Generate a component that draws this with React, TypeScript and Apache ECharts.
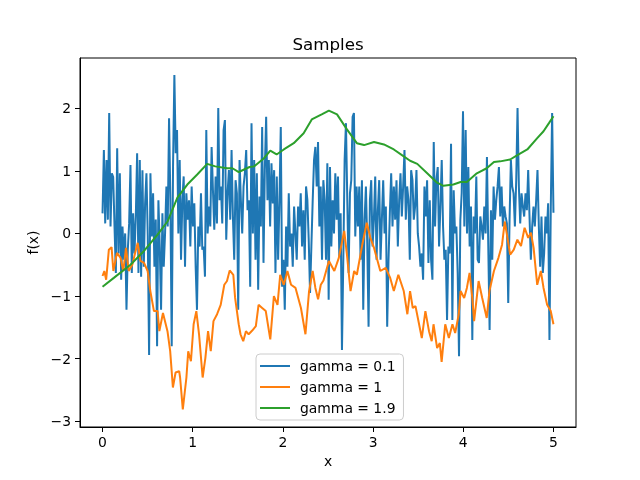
import React, { useEffect, useRef } from "react";
import * as echarts from "echarts";

const TITLE = "Samples";
const X_LABEL = "x";
const Y_LABEL = "f(x)";
const X_TICKS = [0, 1, 2, 3, 4, 5];
const Y_TICKS = [-3, -2, -1, 0, 1, 2];
const SERIES_NAMES = ["gamma = 0.1", "gamma = 1", "gamma = 1.9"];
const COLORS = ["#1f77b4", "#ff7f0e", "#2ca02c"];
const X_START = 0;
const X_END = 5;

// gamma = 0.1 : values sampled on an even grid from 0 to 5
const blueY = [
  0.32, 1.33, 0.16, 1.17, 0.22, 1.92, 0.11, 0.96, 0.90, 0.11, -0.63, 1.36, -0.32, 0.96, -0.74, 0.11, -0.42, 0.00, -1.22, -0.26,
  0.16, 1.09, -0.63, 0.32, -0.32, 0.27, 1.28, -0.63, 1.17, -0.69, 1.01, -0.53, 0.48, 0.96, -0.05, -1.94, 0.96, -0.05, 0.64, -0.53,
  0.22, -1.80, 0.53, -0.21, -1.22, 0.32, -0.53, 0.00, 0.75, 0.11, 1.84, 0.53, -1.80, 1.07, 2.53,
  1.28, 1.65, 0.00, 1.17, -0.42, 0.53, 0.91, -0.53, 0.64, 0.22, 0.53, -0.21, 0.75, 0.11, 0.48, -0.53, -1.22, 0.11, -0.21, 0.64,
  -0.26, -0.21, -0.69, 1.65, 0.00, 0.43, 0.11, 1.38, 0.69, 0.06, 0.91, 0.16, 2.00, 0.53, 0.75, 0.16, 1.65, 1.81, -0.10, 0.64,
  1.01, 0.22, 1.33, 0.27, -0.42, 0.85, 0.64, -1.22, 1.17, 0.53, 0.00, 0.75, 0.96, 1.33, 0.37, 0.53, -0.85,
  1.76, 0.00, 1.17, -0.42, 0.96, -0.90, 0.59, 0.11, 1.70, -0.47, 1.01, 1.86, 0.53, 1.17, 0.11, 1.12, 0.48, 1.01, -0.63, 0.91,
  -0.42, 0.53, 1.70, -0.85, -0.42, -1.22, 0.11, -0.53, 0.64, -0.21, 0.00, -0.53, 0.43, 0.00, -0.42, 0.43, 0.11, 0.64, -0.21, 0.37,
  -0.42, 0.75, 0.53, -0.10, -0.95, -0.21, 0.53, 1.17, 1.38, 0.75, 1.46, 0.11, 0.75, -0.42, 0.85, 0.53,
  -0.42, 1.12, -1.06, 1.06, -0.21, 0.53, 0.00, 0.96, 0.22, 0.91, -0.37, 0.32, -1.86, -0.42, 1.17, 1.76, 0.53, -0.63, 0.64, 0.85,
  1.86, 1.92, -0.05, 0.75, 0.11, 0.75, -0.42, 0.85, -1.22, 0.22, 0.75, -0.16, -1.49, 0.53, 0.85, -0.21, 0.22, 0.91, -0.42, 0.37,
  0.85, -0.42, 0.22, 0.85, 0.00, 0.43, -1.49, -0.42, 0.32, 0.96, 0.11, 0.75, 0.22, 0.85, -0.21, 0.53, 0.96,
  0.27, 0.75, 1.33, 0.22, 0.75, 0.53, -0.42, 1.01, 0.85, 0.22, 0.43, 1.01, 0.00, -0.21, -0.53, -0.32, -0.74, 0.75, 0.27, 0.85,
  -0.47, 0.53, -0.42, -0.74, 1.46, 0.11, 0.85, 1.06, -0.21, 0.43, 1.17, 0.11, -0.42, -0.26, -1.38, -0.21, -0.32, 1.43, -1.38, 0.69,
  0.00, 0.11, -0.63, -1.96, 0.22, 0.64, 1.95, 0.11, 1.65, 0.00, 1.06, -0.21, 0.43, -1.70, 0.27, 0.00, 0.91, -0.42,
  -0.47, 0.27, 0.11, -0.10, 0.43, 0.00, 1.22, -0.21, -1.54, 0.37, -0.42, 0.75, 0.22, 0.53, 0.75, 1.06, 0.27, 0.75, 0.11, 0.43,
  0.27, 0.16, -1.11, 0.22, 1.17, 0.75, 0.64, 0.11, 0.85, 2.00, 0.75, 0.16, 0.64, 0.43, 0.27, 0.64, 0.37, 1.01, 0.27, -0.42,
  0.11, 0.43, 0.11, 0.53, 1.01, 0.11, -0.53, 0.27, -0.63, -0.32, 0.27, 0.00, 0.48, -1.70, 0.43, 1.92, 0.33,
];

// gamma = 1 : [x, f(x)]
const orange: [number, number][] = [
  [0.0, -0.68], [0.02, -0.6], [0.04, -0.74], [0.07, -0.26], [0.1, -0.22], [0.12, -0.6], [0.16, -0.31], [0.2, -0.39],
  [0.23, -0.6], [0.26, -0.23], [0.29, -0.6], [0.33, -0.5], [0.37, -0.26], [0.39, -0.15], [0.42, -0.44], [0.46, -0.47],
  [0.5, -0.6], [0.53, -0.92], [0.57, -1.24], [0.61, -1.24], [0.63, -1.56], [0.67, -1.27], [0.72, -1.56], [0.75, -1.88],
  [0.78, -2.46], [0.81, -2.22], [0.85, -2.2], [0.86, -2.3], [0.89, -2.81], [0.93, -2.3], [0.95, -1.88], [0.98, -2.04],
  [1.01, -1.45], [1.04, -1.24], [1.07, -1.61], [1.11, -2.3], [1.14, -1.99], [1.17, -1.56], [1.2, -1.88], [1.23, -1.4],
  [1.27, -1.29], [1.31, -1.14], [1.35, -0.82], [1.38, -0.76], [1.41, -0.59], [1.45, -0.66], [1.47, -1.03], [1.51, -1.45],
  [1.53, -1.61], [1.56, -1.72], [1.59, -1.56], [1.62, -1.61], [1.66, -1.55], [1.7, -1.48], [1.73, -1.14], [1.77, -1.19],
  [1.81, -1.24], [1.86, -1.69], [1.9, -1.0], [1.94, -1.14], [1.97, -0.66], [2.01, -0.82], [2.05, -0.6], [2.09, -0.82],
  [2.14, -0.87], [2.2, -1.19], [2.25, -1.61], [2.29, -0.92], [2.33, -0.6], [2.36, -0.87], [2.39, -1.05], [2.42, -0.82],
  [2.45, -0.75], [2.51, -0.44], [2.57, -0.6], [2.62, -0.39], [2.68, 0.04], [2.71, -0.34], [2.75, -0.92], [2.79, -0.6],
  [2.82, -0.66], [2.88, -0.18], [2.93, 0.17], [2.97, -0.07], [3.01, -0.23], [3.04, -0.39], [3.08, -0.6], [3.14, -0.55],
  [3.19, -0.71], [3.23, -0.92], [3.28, -0.66], [3.34, -0.92], [3.38, -1.29], [3.41, -0.92], [3.44, -1.19], [3.47, -1.16],
  [3.51, -1.45], [3.54, -1.67], [3.58, -1.24], [3.62, -1.56], [3.65, -1.72], [3.67, -1.45], [3.71, -1.83], [3.74, -1.75],
  [3.76, -2.05], [3.8, -1.45], [3.84, -1.67], [3.88, -1.45], [3.91, -1.59], [3.95, -1.29], [3.97, -0.92], [4.01, -1.03],
  [4.04, -0.87], [4.07, -0.63], [4.1, -1.03], [4.12, -1.4], [4.17, -0.76], [4.21, -1.03], [4.26, -1.35], [4.29, -0.92],
  [4.34, -0.6], [4.39, -0.39], [4.43, -0.18], [4.46, 0.19], [4.49, -0.07], [4.52, -0.34], [4.56, -0.26], [4.6, -0.1],
  [4.64, -0.2], [4.68, 0.09], [4.72, -0.07], [4.75, 0.01], [4.78, -0.23], [4.82, -0.82], [4.86, -0.6], [4.89, -0.87],
  [4.93, -1.14], [4.97, -1.24], [5.0, -1.45],
];

// gamma = 1.9 : [x, f(x)]
const green: [number, number][] = [
  [0.0, -0.85], [0.125, -0.71], [0.31, -0.5], [0.46, -0.28], [0.61, -0.02], [0.72, 0.19], [0.83, 0.57], [0.94, 0.78],
  [1.05, 0.94], [1.16, 1.11], [1.25, 1.07], [1.38, 1.04], [1.44, 1.04], [1.51, 0.98], [1.63, 1.06], [1.68, 1.07],
  [1.79, 1.2], [1.86, 1.32], [1.93, 1.26], [2.01, 1.34], [2.12, 1.44], [2.23, 1.6], [2.32, 1.82], [2.43, 1.9],
  [2.51, 1.96], [2.6, 1.9], [2.71, 1.66], [2.82, 1.44], [2.9, 1.41], [3.01, 1.46], [3.12, 1.42], [3.23, 1.34],
  [3.34, 1.23], [3.41, 1.16], [3.49, 1.11], [3.6, 0.96], [3.71, 0.81], [3.78, 0.76], [3.89, 0.78], [3.97, 0.82],
  [4.04, 0.82], [4.15, 0.96], [4.26, 1.04], [4.34, 1.14], [4.41, 1.15], [4.52, 1.18], [4.6, 1.25], [4.71, 1.34],
  [4.82, 1.52], [4.89, 1.63], [4.95, 1.76], [5.0, 1.87],
];

const FONT = "DejaVu Sans";

export default function App() {
  const ref = useRef<HTMLDivElement>(null);
  useEffect(() => {
    if (!ref.current) return;
    const chart = echarts.init(ref.current, null, { renderer: "svg" });
    const fmt = (v: number) => String(v).replace("-", "\u2212");
    const blue = blueY.map((y, i) => [X_START + (i * (X_END - X_START)) / (blueY.length - 1), y]);
    const seriesData = [blue, orange, green];
    chart.setOption({
      animation: false,
      textStyle: { fontFamily: FONT },
      title: {
        text: TITLE,
        left: 328,
        top: 35,
        textAlign: "center",
        padding: 0,
        textStyle: { fontFamily: FONT, fontSize: 16.7, fontWeight: "normal", color: "#000" },
      },
      grid: {
        left: 80,
        top: 58,
        width: 496,
        height: 369,
        show: true,
        borderColor: "#000",
        borderWidth: 1,
        backgroundColor: "transparent",
      },
      legend: {
        data: SERIES_NAMES,
        orient: "vertical",
        left: 256,
        top: 354,
        padding: [4, 8, 4, 4],
        itemWidth: 30,
        itemHeight: 2,
        itemGap: 5,
        icon: "rect",
        backgroundColor: "rgba(255,255,255,0.8)",
        borderColor: "#cccccc",
        borderWidth: 1,
        borderRadius: 4,
        textStyle: { fontFamily: FONT, fontSize: 13.9, color: "#000", lineHeight: 16, padding: [0, 0, 0, 5] },
      },
      xAxis: {
        type: "value",
        min: -0.25,
        max: 5.25,
        name: X_LABEL,
        nameLocation: "middle",
        nameGap: 27,
        nameTextStyle: { fontFamily: FONT, fontSize: 13.9, color: "#000" },
        axisLine: { show: true, onZero: false, lineStyle: { color: "#000", width: 1 } },
        axisTick: { show: true, customValues: X_TICKS, length: 5, lineStyle: { color: "#000", width: 1 } },
        axisLabel: { customValues: X_TICKS, formatter: fmt, color: "#000", fontSize: 13.9, fontFamily: FONT, margin: 8 },
        splitLine: { show: false },
      },
      yAxis: {
        type: "value",
        min: -3.09,
        max: 2.8,
        name: Y_LABEL,
        nameLocation: "middle",
        nameGap: 35,
        nameTextStyle: { fontFamily: FONT, fontSize: 13.9, color: "#000" },
        axisLine: { show: true, onZero: false, lineStyle: { color: "#000", width: 1 } },
        axisTick: { show: true, customValues: Y_TICKS, length: 5, lineStyle: { color: "#000", width: 1 } },
        axisLabel: { customValues: Y_TICKS, formatter: fmt, color: "#000", fontSize: 13.9, fontFamily: FONT, margin: 9 },
        splitLine: { show: false },
      },
      series: SERIES_NAMES.map((name, k) => ({
        name,
        type: "line",
        data: seriesData[k],
        showSymbol: false,
        symbol: "none",
        color: COLORS[k],
        lineStyle: { color: COLORS[k], width: 2 },
        z: 2 + k,
      })),
    });
    return () => chart.dispose();
  }, []);
  return <div ref={ref} style={{ position: "fixed", left: 0, top: 0, width: 640, height: 480 }} />;
}
